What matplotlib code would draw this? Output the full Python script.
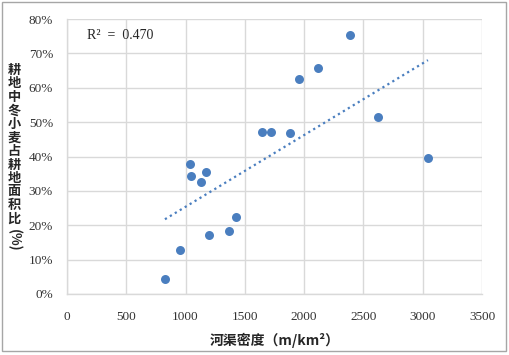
import matplotlib
matplotlib.use("Agg")
import matplotlib.pyplot as plt
import numpy as np
from matplotlib.patches import Rectangle
from matplotlib.ticker import FuncFormatter

plt.rcParams['font.family'] = ['Liberation Serif', 'Noto Sans CJK SC', 'DejaVu Sans']

density = [826, 953, 1045, 1037, 1172, 1130, 1197, 1366, 1425, 1644, 1720, 1880, 1956, 2116, 2386, 2622, 3044]
share = [4.4, 12.8, 34.2, 37.8, 35.5, 32.7, 17.2, 18.3, 22.4, 47.1, 47.1, 46.8, 62.5, 65.7, 75.3, 51.5, 39.6]
x_ticks = [0, 500, 1000, 1500, 2000, 2500, 3000, 3500]
y_ticks = [0, 10, 20, 30, 40, 50, 60, 70, 80]
r2_text = "R²  =  0.470"
x_label = "河渠密度（m/km²）"
y_label_chars = "耕地中冬小麦占耕地面积比"
y_label_paren = "(%)"

W, H = 510, 355
fig = plt.figure(figsize=(W/100, H/100), dpi=100)
fig.patches.append(Rectangle((2/W, 4/H), 504/W, 349/H, transform=fig.transFigure,
                             fill=False, edgecolor='#a6a6a6', linewidth=1.0))
ax = fig.add_axes([67/W, 1-294/H, 415/W, 275/H])

blue = '#4a7ebf'
ax.scatter(density, share, s=42, color=blue, zorder=3, linewidths=0)

coef = np.polyfit(density, share, 1)
xs = np.array([min(density), max(density)])
ax.plot(xs, np.polyval(coef, xs), linestyle=(0, (1, 1.6)), color=blue, linewidth=1.6, zorder=2)

ax.set_xlim(x_ticks[0], x_ticks[-1])
ax.set_ylim(y_ticks[0], y_ticks[-1])
ax.set_xticks(x_ticks)
ax.set_yticks(y_ticks)
ax.yaxis.set_major_formatter(FuncFormatter(lambda v, p: f"{int(v)}%"))
ax.grid(True, color='#d9d9d9', linewidth=1.0)
ax.set_axisbelow(True)
for s in ['top', 'right']:
    ax.spines[s].set_visible(False)
for s in ['left', 'bottom']:
    ax.spines[s].set_color('#d9d9d9')
    ax.spines[s].set_linewidth(1.0)
ax.tick_params(axis='both', length=0, labelsize=9.5, colors='#333333')
ax.tick_params(axis='x', pad=12)
ax.tick_params(axis='y', pad=10)

ax.text(165, 75.3, r2_text, fontsize=10, va='center', ha='left', color='#262626')

cjk = ['Noto Sans CJK SC', 'DejaVu Sans']
fig.text(275/W, 1-340/H, x_label, ha='center', va='center', fontsize=10,
         fontweight='bold', family=cjk, color='#262626')
for i, ch in enumerate(y_label_chars):
    fig.text(14/W, 1-(70 + i*13.5)/H, ch, ha='center', va='center', fontsize=9.5,
             fontweight='bold', family=cjk, color='#262626')
fig.text(14/W, 1-240/H, y_label_paren, ha='center', va='center', fontsize=9.5, rotation=-90,
         fontweight='bold', family=cjk, color='#262626')

fig.savefig("out.png", dpi=100)
